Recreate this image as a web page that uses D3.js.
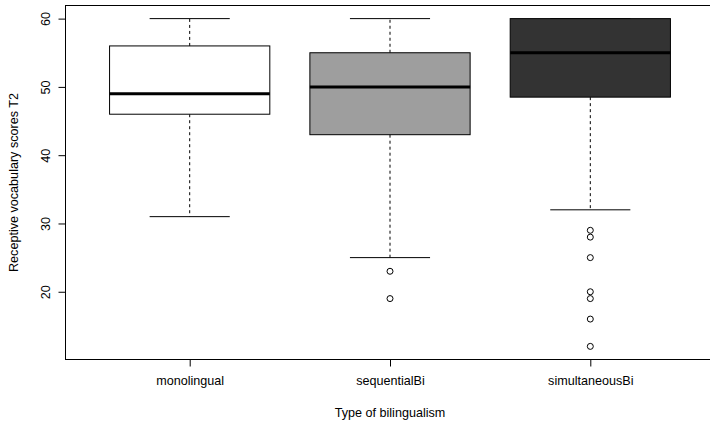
<!DOCTYPE html>
<html>
<head>
<meta charset="utf-8">
<script src="https://cdn.jsdelivr.net/npm/d3@7"></script>
<style>
html,body{margin:0;padding:0;background:#fff;}
svg{display:block;}
text{font-family:"Liberation Sans",Arial,Helvetica,sans-serif;font-size:12.6px;fill:#000;}
</style>
</head>
<body>
<svg id="chart" width="710" height="426"></svg>
<script>
const categories = ["monolingual", "sequentialBi", "simultaneousBi"];
const lowerWhisker = [31, 25, 32];
const q1 = [46, 43, 48.5];
const medians = [49, 50, 55];
const q3 = [56, 55, 60];
const upperWhisker = [60, 60, 60];
const outliers = [[], [23, 19], [29, 28, 25, 20, 19, 16, 12]];
const fills = ["#ffffff", "#9e9e9e", "#333333"];
const yTicks = [20, 30, 40, 50, 60];
const yLabel = "Receptive vocabulary scores T2";
const xLabel = "Type of bilingualism";

const svg = d3.select("#chart");
const pLeft = 65.5, pRight = 714.5, pTop = 5.5, pBottom = 359.5;
const fs = "12.6px";

const x = d3.scaleLinear().domain([0.38, 3.62]).range([pLeft, pRight]);
const y = d3.scaleLinear().domain([10.08, 61.92]).range([pBottom, pTop]);

const g = svg.append("g");

categories.forEach((c, i) => {
  const cx = x(i + 1);
  const bw = x(1.4) - x(1.0);
  const cw = x(1.2) - x(1.0);
  g.append("line").attr("x1", cx).attr("x2", cx).attr("y1", y(q3[i])).attr("y2", y(upperWhisker[i]))
    .attr("stroke", "#000").attr("stroke-dasharray", "3,3");
  g.append("line").attr("x1", cx).attr("x2", cx).attr("y1", y(q1[i])).attr("y2", y(lowerWhisker[i]))
    .attr("stroke", "#000").attr("stroke-dasharray", "3,3");
  g.append("line").attr("x1", cx - cw).attr("x2", cx + cw).attr("y1", y(upperWhisker[i])).attr("y2", y(upperWhisker[i]))
    .attr("stroke", "#000");
  g.append("line").attr("x1", cx - cw).attr("x2", cx + cw).attr("y1", y(lowerWhisker[i])).attr("y2", y(lowerWhisker[i]))
    .attr("stroke", "#000");
  g.append("rect").attr("x", cx - bw).attr("width", 2 * bw)
    .attr("y", y(q3[i])).attr("height", y(q1[i]) - y(q3[i]))
    .attr("fill", fills[i]).attr("stroke", "#000");
  g.append("line").attr("x1", cx - bw).attr("x2", cx + bw).attr("y1", y(medians[i])).attr("y2", y(medians[i]))
    .attr("stroke", "#000").attr("stroke-width", 3);
  g.selectAll(null).data(outliers[i]).enter().append("circle")
    .attr("cx", cx).attr("cy", d => y(d)).attr("r", 3)
    .attr("fill", "none").attr("stroke", "#000");
});

svg.append("rect").attr("x", pLeft).attr("y", pTop).attr("width", pRight - pLeft).attr("height", pBottom - pTop)
  .attr("fill", "none").attr("stroke", "#000");

// y axis
const yAxis = d3.axisLeft(y).tickValues(yTicks).tickSize(7);
const ya = svg.append("g").attr("transform", `translate(${pLeft},0)`).call(yAxis);
ya.select(".domain").attr("d", `M0,${y(20)}V${y(60)}`);
ya.selectAll(".tick text")
  .attr("x", 0).attr("y", -16).attr("dy", null)
  .attr("transform", "rotate(-90)")
  .attr("text-anchor", "middle")
  .style("font-size", fs).style("font-family", null);

// x axis
const xAxis = d3.axisBottom(x).tickValues([1, 2, 3]).tickFormat(d => categories[d - 1]).tickSize(7).tickPadding(10);
const xa = svg.append("g").attr("transform", `translate(0,${pBottom})`).call(xAxis);
xa.select(".domain").attr("d", `M${x(1)},0H${x(3)}`);
xa.selectAll("text").style("font-size", fs).style("font-family", null);
svg.selectAll(".tick line").attr("stroke", "#000");
svg.selectAll(".domain").attr("stroke", "#000");

svg.append("text").attr("x", x(2)).attr("y", 416.5).attr("text-anchor", "middle").text(xLabel);
svg.append("text").attr("transform", `translate(17.5,${(pTop + pBottom) / 2}) rotate(-90)`)
  .attr("text-anchor", "middle").text(yLabel);
</script>
</body>
</html>
